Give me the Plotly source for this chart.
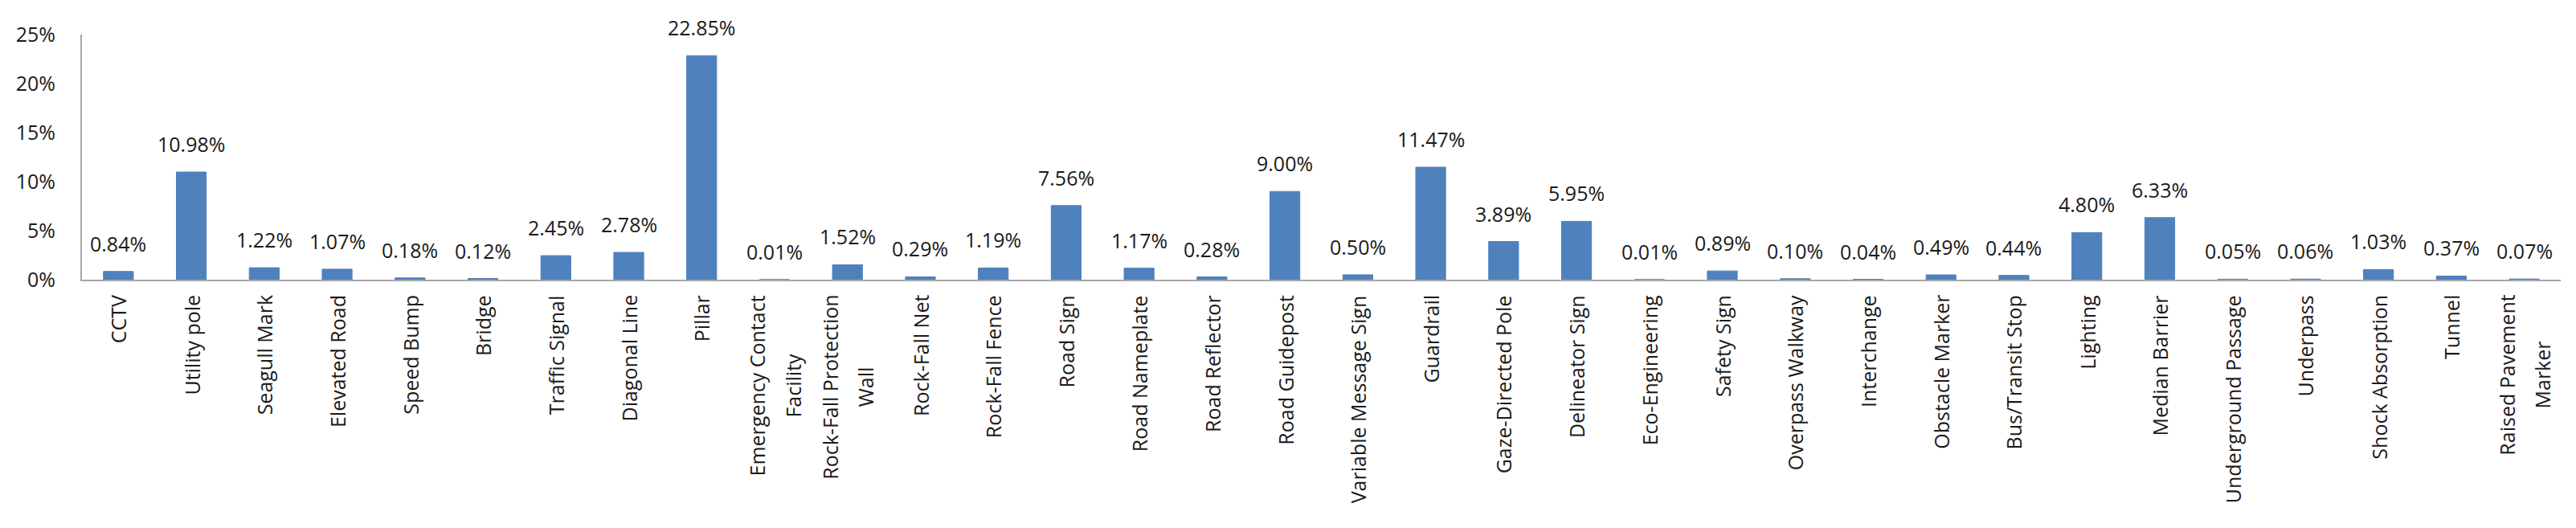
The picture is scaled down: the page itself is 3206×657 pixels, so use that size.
import plotly.graph_objects as go

categories = [
    "CCTV", "Utility pole", "Seagull Mark", "Elevated Road", "Speed Bump", "Bridge",
    "Traffic Signal", "Diagonal Line", "Pillar", "Emergency Contact Facility",
    "Rock-Fall Protection Wall", "Rock-Fall Net", "Rock-Fall Fence", "Road Sign",
    "Road Nameplate", "Road Reflector", "Road Guidepost", "Variable Message Sign",
    "Guardrail", "Gaze-Directed Pole", "Delineator Sign", "Eco-Engineering",
    "Safety Sign", "Overpass Walkway", "Interchange", "Obstacle Marker",
    "Bus/Transit Stop", "Lighting", "Median Barrier", "Underground Passage",
    "Underpass", "Shock Absorption", "Tunnel", "Raised Pavement Marker",
]

tick_labels = [
    "CCTV", "Utility pole", "Seagull Mark", "Elevated Road", "Speed Bump", "Bridge",
    "Traffic Signal", "Diagonal Line", "Pillar", "Emergency Contact<br>Facility",
    "Rock-Fall Protection<br>Wall", "Rock-Fall Net", "Rock-Fall Fence", "Road Sign",
    "Road Nameplate", "Road Reflector", "Road Guidepost", "Variable Message Sign",
    "Guardrail", "Gaze-Directed Pole", "Delineator Sign", "Eco-Engineering",
    "Safety Sign", "Overpass Walkway", "Interchange", "Obstacle Marker",
    "Bus/Transit Stop", "Lighting", "Median Barrier", "Underground Passage",
    "Underpass", "Shock Absorption", "Tunnel", "Raised Pavement<br>Marker",
]

values = [
    0.84, 10.98, 1.22, 1.07, 0.18, 0.12, 2.45, 2.78, 22.85, 0.01,
    1.52, 0.29, 1.19, 7.56, 1.17, 0.28, 9.00, 0.50, 11.47, 3.89,
    5.95, 0.01, 0.89, 0.10, 0.04, 0.49, 0.44, 4.80, 6.33, 0.05,
    0.06, 1.03, 0.37, 0.07,
]

y_ticks = [0, 5, 10, 15, 20, 25]

FONT = "Open Sans"
TXT = "#1a1a1a"
BAR = "#4F81BD"
AXIS = "#A6A6A6"

fig = go.Figure()
fig.add_trace(go.Bar(
    x=categories, y=values,
    marker=dict(color=BAR, line=dict(color=BAR, width=1)),
    hoverinfo="skip",
))

annotations = []
for cat, v in zip(categories, values):
    annotations.append(dict(
        x=cat, y=v, xref="x", yref="y", text=f"{v:.2f}%", showarrow=False,
        xanchor="center", yanchor="bottom", yshift=16,
        font=dict(family=FONT, size=25, color=TXT),
    ))

for cat, lab in zip(categories, tick_labels):
    if "<br>" in lab:
        parts = lab.split("<br>")
        text = "<br>".join(f"<span style='font-size:25px'>{p}</span>" for p in parts)
        fsize = 34
    else:
        text = lab
        fsize = 25
    annotations.append(dict(
        x=cat, y=0, xref="x", yref="paper", text=text, showarrow=False,
        textangle=-90, align="center", xanchor="center", yanchor="top", yshift=-17,
        font=dict(family=FONT, size=fsize, color=TXT),
    ))

fig.update_layout(
    width=3206, height=657,
    margin=dict(l=102, r=19, t=43, b=309, pad=0),
    paper_bgcolor="white", plot_bgcolor="white",
    bargap=0.59,
    showlegend=False,
    annotations=annotations,
    font=dict(family=FONT, size=25, color=TXT),
)
fig.update_xaxes(
    showticklabels=False, showgrid=False, zeroline=False,
    showline=True, linecolor=AXIS, linewidth=2, ticks="",
)
fig.update_yaxes(
    range=[0, 25], tickvals=y_ticks, ticktext=[f"{t}%" for t in y_ticks],
    showgrid=False, zeroline=False, showline=True, linecolor=AXIS, linewidth=2,
    ticks="", ticklabelstandoff=26,
    tickfont=dict(family=FONT, size=25, color=TXT),
)

fig.write_html("out.html", config={"displayModeBar": False},
               post_script="document.body.style.margin='0';")
